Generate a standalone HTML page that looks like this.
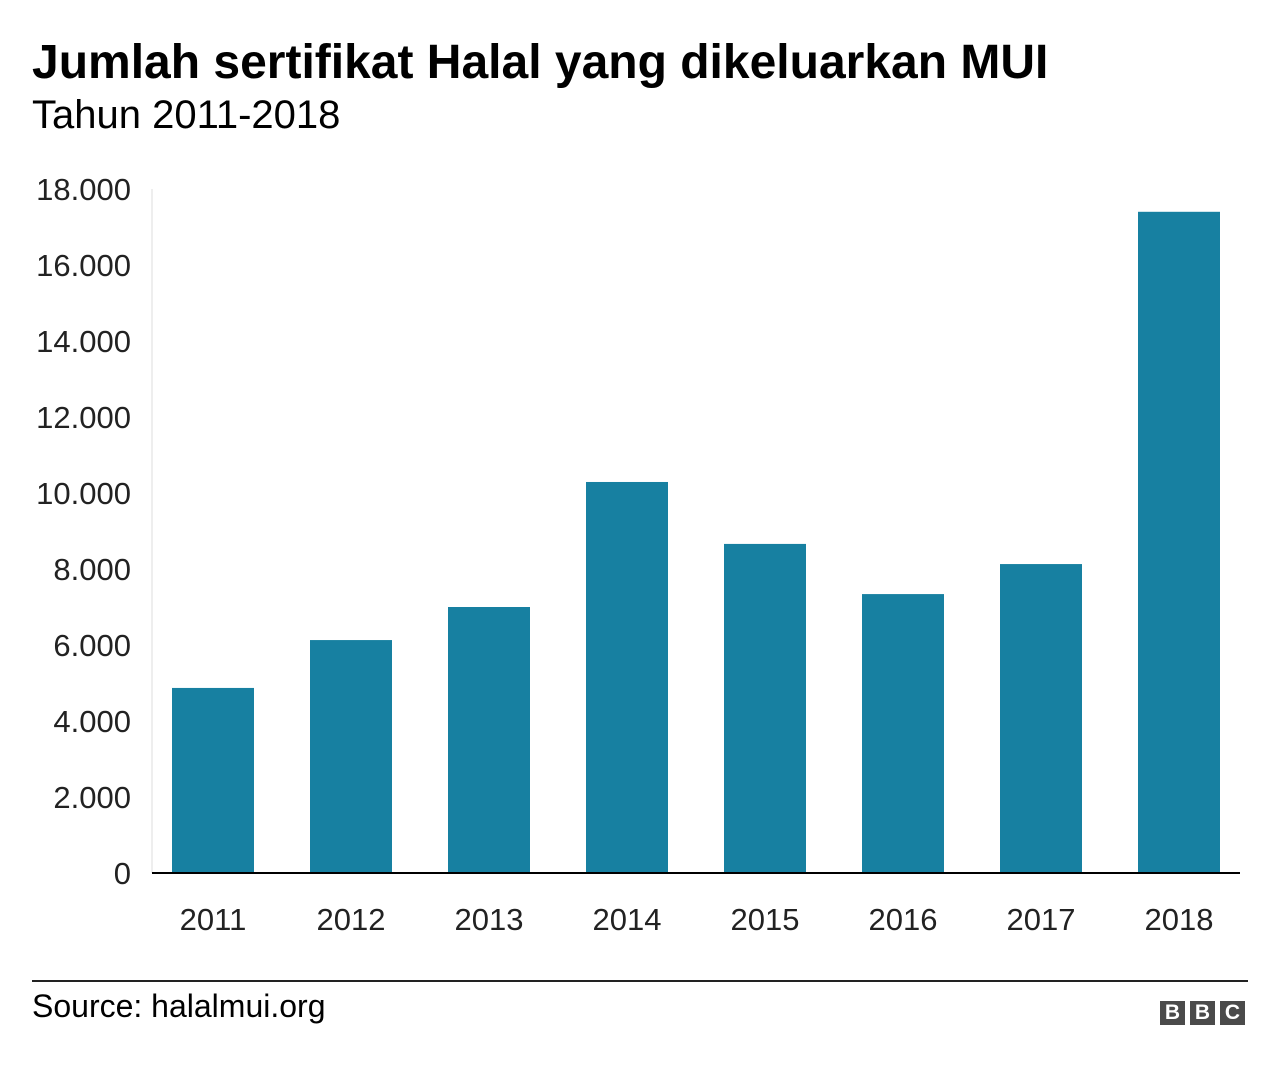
<!DOCTYPE html>
<html><head><meta charset="utf-8"><style>
body{margin:0;background:#fff;width:1280px;height:1068px;overflow:hidden;font-family:"Liberation Sans",Arial,sans-serif;}
.t{position:absolute;left:32px;top:35px;font-size:48px;font-weight:bold;color:#000;}
.s{position:absolute;left:32px;top:93px;font-size:40px;color:#000;}
.src{position:absolute;left:32px;top:988px;font-size:32px;color:#000;}
.bbc{position:absolute;top:1001px;width:25px;height:24px;background:#4a4a4a;color:#fff;font-weight:bold;font-size:21px;text-align:center;line-height:24px;}
</style></head><body>
<div class="t">Jumlah sertifikat Halal yang dikeluarkan MUI</div>
<div class="s">Tahun 2011-2018</div>
<svg id="chart" width="1280" height="1068" style="position:absolute;left:0;top:0"></svg>
<div style="position:absolute;left:32px;top:980px;width:1216px;height:2px;background:#222"></div>
<div class="src">Source: halalmui.org</div>
<div class="bbc" style="left:1160px">B</div>
<div class="bbc" style="left:1190px">B</div>
<div class="bbc" style="left:1220px">C</div>
<script>
const categories=["2011","2012","2013","2014","2015","2016","2017","2018"];
const values=[4870,6130,7000,10290,8660,7340,8130,17400];
const yTicks=[0,2000,4000,6000,8000,10000,12000,14000,16000,18000];
const yTickLabels=["0","2.000","4.000","6.000","8.000","10.000","12.000","14.000","16.000","18.000"];
const svg=document.getElementById('chart');
const NS='http://www.w3.org/2000/svg';
const y0=873,yTop=189,yMax=18000,xL=152,xR=1240;
const band=(xR-xL)/categories.length;
function y(v){return y0-(v/yMax)*(y0-yTop);}
function xc(i){return xL+band*(i+0.5)+2*i-7;}
function mk(tag,attrs){const e=document.createElementNS(NS,tag);for(const k in attrs)e.setAttribute(k,attrs[k]);svg.appendChild(e);return e;}
let ax=mk('line',{x1:xL,x2:xL,y1:yTop,y2:y0,stroke:'#ddd','stroke-width':1});


yTicks.forEach((v,i)=>{
 const t=mk('text',{x:131,y:y(v)+11,'text-anchor':'end','font-size':31,fill:'#222','font-family':'Liberation Sans, sans-serif'});
 t.textContent=yTickLabels[i];
 
 
});
values.forEach((v,i)=>{
 const w=82;
 const r=mk('rect',{x:xc(i)-w/2,y:y(v),width:w,height:y0-y(v),fill:'#1780a1'});
 
 
 const t=mk('text',{x:xc(i),y:930,'text-anchor':'middle','font-size':31,fill:'#222','font-family':'Liberation Sans, sans-serif'});
 t.textContent=categories[i];
 
 
});
let bl=mk('line',{x1:xL,x2:xR,y1:y0,y2:y0,stroke:'#000','stroke-width':2});


</script>
</body></html>
